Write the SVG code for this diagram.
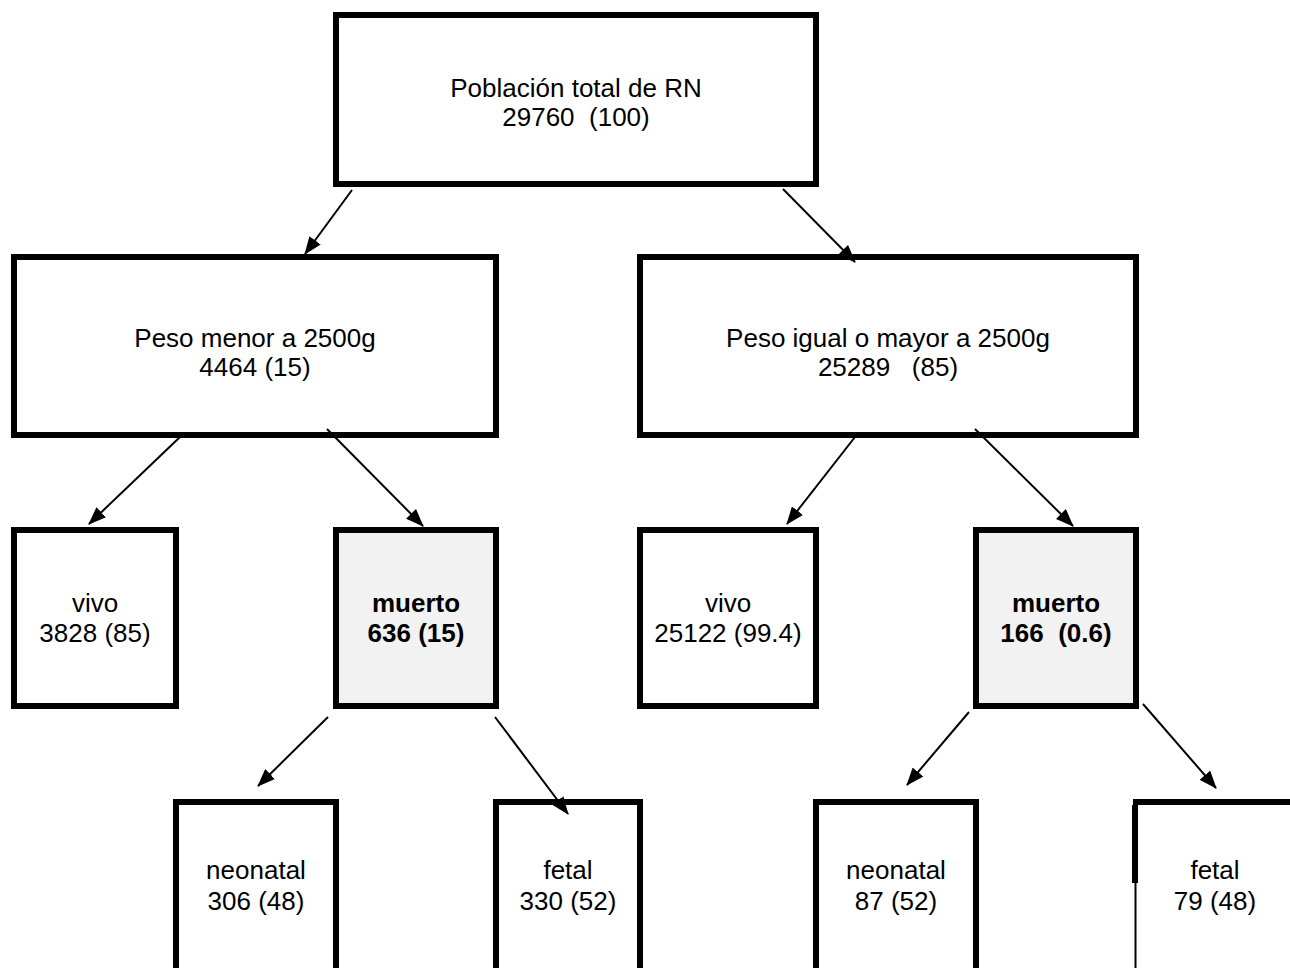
<svg xmlns="http://www.w3.org/2000/svg" width="1290" height="968" viewBox="0 0 1290 968">
  <defs>
    <marker id="arr" viewBox="0 0 18 14" refX="17" refY="7" markerWidth="18" markerHeight="14" markerUnits="userSpaceOnUse" orient="auto">
      <path d="M0,0 L18,7 L0,14 Z" fill="#000"/>
    </marker>
    <style>
      .box { fill: #ffffff; stroke: #000; stroke-width: 6; }
      .dead { fill: #f2f2f2; stroke: #000; stroke-width: 6; }
      .t { font-family: "Liberation Sans", Arial, sans-serif; font-size: 26px; fill: #000; text-anchor: middle; }
      .b { font-weight: bold; }
      .c { fill: none; stroke: #000; stroke-width: 2; marker-end: url(#arr); }
    </style>
  </defs>
  <rect width="1290" height="968" fill="#fff"/>

  <g id="node-total">
    <rect class="box" x="336" y="15" width="480" height="169"/>
    <text class="t" x="576" y="97">Población total de RN</text>
    <text class="t" x="576" y="126" xml:space="preserve">29760  (100)</text>
  </g>

  <g id="node-menor">
    <rect class="box" x="14" y="257" width="482" height="178"/>
    <text class="t" x="255" y="347">Peso menor a 2500g</text>
    <text class="t" x="255" y="376">4464 (15)</text>
  </g>

  <g id="node-igual">
    <rect class="box" x="640" y="257" width="496" height="178"/>
    <text class="t" x="888" y="347">Peso igual o mayor a 2500g</text>
    <text class="t" x="888" y="376" xml:space="preserve">25289   (85)</text>
  </g>

  <g id="node-vivo1">
    <rect class="box" x="14" y="530" width="162" height="176"/>
    <text class="t" x="95" y="612">vivo</text>
    <text class="t" x="95" y="642">3828 (85)</text>
  </g>

  <g id="node-muerto1">
    <rect class="dead" x="336" y="530" width="160" height="176"/>
    <text class="t b" x="416" y="612">muerto</text>
    <text class="t b" x="416" y="642">636 (15)</text>
  </g>

  <g id="node-vivo2">
    <rect class="box" x="640" y="530" width="176" height="176"/>
    <text class="t" x="728" y="612">vivo</text>
    <text class="t" x="728" y="642">25122 (99.4)</text>
  </g>

  <g id="node-muerto2">
    <rect class="dead" x="976" y="530" width="160" height="176"/>
    <text class="t b" x="1056" y="612">muerto</text>
    <text class="t b" x="1056" y="642" xml:space="preserve">166  (0.6)</text>
  </g>

  <g id="node-neonatal1">
    <rect class="box" x="176" y="802" width="160" height="200"/>
    <text class="t" x="256" y="879">neonatal</text>
    <text class="t" x="256" y="910">306 (48)</text>
  </g>

  <g id="node-fetal1">
    <rect class="box" x="496" y="802" width="144" height="200"/>
    <text class="t" x="568" y="879">fetal</text>
    <text class="t" x="568" y="910">330 (52)</text>
  </g>

  <g id="node-neonatal2">
    <rect class="box" x="816" y="802" width="160" height="200"/>
    <text class="t" x="896" y="879">neonatal</text>
    <text class="t" x="896" y="910">87 (52)</text>
  </g>

  <g id="node-fetal2">
    <line x1="1133" y1="802" x2="1292" y2="802" stroke="#000" stroke-width="6"/>
    <line x1="1135" y1="805" x2="1135" y2="883" stroke="#000" stroke-width="6"/>
    <line x1="1135.5" y1="883" x2="1135.5" y2="968" stroke="#000" stroke-width="2"/>
    <text class="t" x="1215" y="879">fetal</text>
    <text class="t" x="1215" y="910">79 (48)</text>
  </g>

  <g id="connectors">
    <path class="c" d="M352,190 L305,254"/>
    <path class="c" d="M783,189 L855,262"/>
    <path class="c" d="M180,437 L89,524"/>
    <path class="c" d="M327,429 L423,526"/>
    <path class="c" d="M855,437 L787,524"/>
    <path class="c" d="M975,429 L1073,526"/>
    <path class="c" d="M328,717 L258,786"/>
    <path class="c" d="M495,717 L568,814"/>
    <path class="c" d="M969,712 L907,785"/>
    <path class="c" d="M1143,704 L1216,788"/>
  </g>
</svg>
